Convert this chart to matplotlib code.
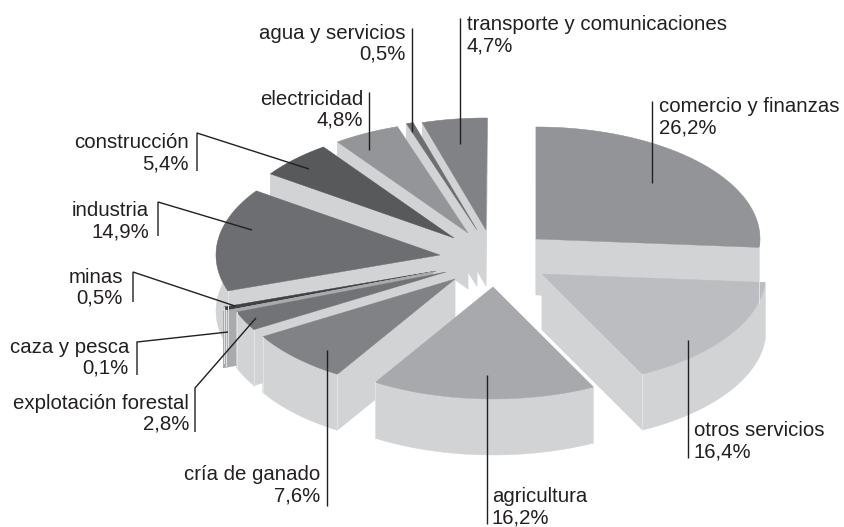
import numpy as np
import matplotlib
matplotlib.use('Agg')
import matplotlib.pyplot as plt

plt.rcParams['font.family'] = ['Liberation Sans', 'DejaVu Sans']

#clockwise from 12 o'clock
names = ["comercio y finanzas", "otros servicios", "agricultura", "cría de ganado",
         "explotación forestal", "caza y pesca", "minas", "industria", "construcción",
         "electricidad", "agua y servicios", "transporte y comunicaciones"]
shares = [26.2, 16.4, 16.2, 7.6, 2.8, 0.1, 0.5, 14.9, 5.4, 4.8, 0.5, 4.7]

colors = ['#929497', '#bcbdc0', '#a7a9ac', '#808285', '#727376', '#a7a9ac',
          '#414042', '#6d6e71', '#58595b', '#939598', '#6d6e71', '#808285']

# exploded apex of each slice, pixels
apex_x = [536, 542, 493, 455, 446, 433, 436, 440, 454, 468, 477, 486]
apex_y = [239, 274, 287, 279, 272, 272, 271, 255, 238, 233, 230, 230]

# back slices first, front ones paint over them
draw_order = [11, 10, 9, 8, 7, 6, 5, 4, 3, 0, 1, 2]

RX = 224
RY = 112
DEPTH = 56
SIDE = '#d1d3d4'
SEAM = '#e2e3e4'
INK = '#231f20'

# label: x and baseline of first line, ha, then leader polyline
label_x = [659, 694, 492, 320, 189, 129, 123, 149, 189, 363, 406, 467]
label_y = [112, 436, 502, 480, 409, 353, 283, 216, 148, 105, 39, 30]
label_ha = ['left', 'left', 'left', 'right', 'right', 'right', 'right', 'right',
            'right', 'right', 'right', 'left']
leaders = [
    [(652, 101), (652, 183)],
    [(688, 340), (688, 458)],
    [(487, 375), (487, 524)],
    [(327, 350), (327, 506)],
    [(195, 432), (195, 388), (256, 318)],
    [(137, 375), (137, 342), (228, 332)],
    [(133, 302), (133, 272), (235, 306)],
    [(158, 236), (158, 202), (252, 230)],
    [(197, 171), (197, 133), (309, 169)],
    [(369, 150), (369, 92)],
    [(412, 132), (412, 28)],
    [(460, 144), (460, 18)],
]


def draw_slice(ax, cx, cy, a0, a1, color, cut_color):
    t = np.radians(np.linspace(a0, a1, 80))
    x = cx + RX * np.cos(t)
    y = cy - RY * np.sin(t)
    # the two cut faces
    for ex, ey in ((x[0], y[0]), (x[-1], y[-1])):
        ax.fill([cx, ex, ex, cx], [cy, ey, ey + DEPTH, cy + DEPTH],
                color=cut_color, lw=0.3)
    # rim
    ax.fill(np.r_[x, x[::-1]], np.r_[y, y[::-1] + DEPTH], color=cut_color, lw=0.3)
    # seams at the front corners
    if cut_color == SIDE:
        for ex, ey in ((x[0], y[0]), (x[-1], y[-1])):
            if ey > cy:
                ax.plot([ex, ex], [ey, ey + DEPTH], color=SEAM, lw=0.7)
    ax.fill(np.r_[cx, x], np.r_[cy, y], color=color, lw=0.3)


def main():
    fig = plt.figure(figsize=(8.45, 5.27), dpi=100)
    ax = fig.add_axes([0, 0, 1, 1])
    ax.set_xlim(0, 845)
    ax.set_ylim(527, 0)
    ax.axis('off')

    ends = 90 - 3.6 * np.cumsum(shares)
    starts = np.r_[90, ends[:-1]]

    for i in draw_order:
        cut = '#a9abae' if names[i] == "caza y pesca" else SIDE
        draw_slice(ax, apex_x[i], apex_y[i], starts[i], ends[i], colors[i], cut)

    for line in leaders:
        xs, ys = zip(*line)
        ax.plot(xs, ys, color=INK, lw=1.0, solid_capstyle='butt', solid_joinstyle='miter')

    for i, name in enumerate(names):
        pct = f"{shares[i]:.1f}%".replace('.', ',')
        ax.text(label_x[i], label_y[i], name, ha=label_ha[i], va='baseline',
                fontsize=14.7, color=INK)
        ax.text(label_x[i], label_y[i] + 21, pct, ha=label_ha[i], va='baseline',
                fontsize=14.7, color=INK)

    fig.savefig('out.png', dpi=100)


if __name__ == '__main__':
    main()
